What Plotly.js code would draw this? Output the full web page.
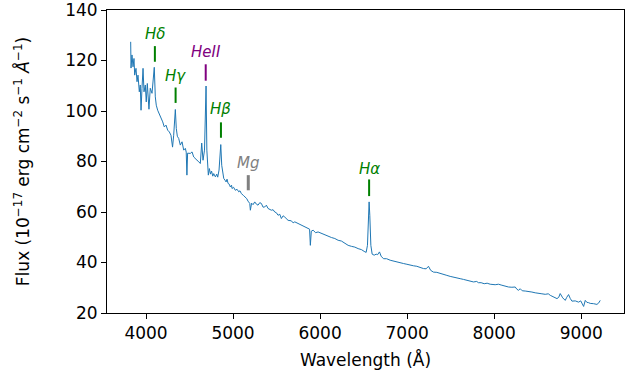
<!DOCTYPE html>
<html>
<head>
<meta charset="utf-8">
<script src="https://cdn.plot.ly/plotly-3.0.1.min.js"></script>
<style>html,body{margin:0;padding:0;background:#fff;}#chart{width:638px;height:374px;}</style>
</head>
<body>
<div id="chart"></div>
<script>
// Spectrum (wavelength in Angstrom, flux in 1e-17 erg/cm2/s/A)
const wavelength = [3824,3828,3839,3851,3862,3870,3885,3897,3908,3923,3934,3943,3954,3966,3977,3992,4003,4015,4034,4049,4069,4084,4095,4107,4118,4134,4153,4172,4192,4210,4230,4249,4268,4287,4305,4318,4337,4348,4360,4376,4394,4414,4433,4452,4462,4470,4478,4509,4529,4548,4567,4586,4606,4624,4640,4655,4672,4690,4699,4707,4716,4728,4741,4753,4767,4778,4797,4813,4824,4839,4859,4870,4882,4893,4908,4920,4931,4943,4957,4969,4983,4988,5006,5026,5046,5065,5080,5095,5118,5134,5157,5172,5192,5199,5213,5230,5249,5268,5287,5307,5325,5345,5364,5383,5402,5440,5460,5479,5498,5517,5537,5555,5575,5594,5613,5632,5670,5690,5709,5747,5785,5824,5862,5879,5888,5899,5920,5948,5977,6015,6054,6092,6130,6169,6207,6245,6284,6322,6360,6399,6437,6475,6506,6529,6544,6556,6563,6571,6583,6598,6621,6644,6661,6682,6701,6728,6764,6805,6843,6881,6919,6957,6997,7034,7072,7111,7149,7187,7218,7245,7270,7302,7341,7379,7417,7456,7494,7532,7571,7609,7647,7686,7724,7762,7799,7819,7850,7885,7919,7954,8011,8049,8088,8126,8164,8203,8241,8261,8279,8299,8322,8356,8394,8433,8471,8509,8548,8586,8621,8644,8681,8721,8741,8758,8787,8816,8833,8854,8873,8893,8931,8969,8994,9015,9027,9046,9065,9084,9103,9141,9161,9180,9201,9218];
const flux = [127.4,117.0,122.2,117.5,120.8,114.2,116.9,111.6,114.2,107.6,110.3,100.3,109.0,116.9,107.6,110.3,103.6,110.9,100.7,109.0,107.0,111.6,117.3,105.6,102.3,100.3,99.0,97.1,95.7,93.7,94.4,92.4,91.7,90.4,85.7,90.4,100.6,93.1,90.0,89.1,86.5,87.8,84.5,85.2,83.7,74.6,83.3,83.2,83.8,81.8,80.9,80.5,79.9,79.2,87.3,80.5,84.5,109.9,84.5,76.6,74.6,77.2,75.0,76.2,74.2,75.2,73.9,75.0,73.8,76.6,86.7,78.5,74.2,73.3,72.6,71.9,73.0,71.3,71.0,69.9,70.6,69.3,69.8,68.6,69.0,68.0,68.4,67.3,66.6,66.0,65.3,64.3,63.4,60.7,63.5,62.9,64.0,63.1,62.7,63.7,63.4,61.9,62.0,62.7,61.4,60.7,60.9,60.0,59.7,58.7,59.1,57.4,58.5,58.0,57.1,56.7,56.5,55.7,56.1,55.4,54.7,54.1,53.4,53.2,46.8,52.4,52.8,51.8,52.1,51.5,50.8,50.4,49.9,49.5,48.8,48.5,47.7,46.8,46.4,46.1,45.5,45.1,44.4,44.0,46.8,58.7,64.0,58.7,46.8,43.3,42.9,43.3,43.1,44.2,42.5,41.5,41.5,40.9,40.5,40.2,39.9,39.6,39.3,38.9,38.7,38.5,37.9,37.6,37.5,38.5,36.9,36.2,36.1,35.6,35.3,34.9,34.5,34.3,33.9,33.6,33.3,32.9,32.7,32.3,32.5,32.0,32.0,31.6,31.8,31.4,31.2,31.4,31.0,30.6,30.3,30.2,30.3,29.4,29.0,29.6,28.8,28.7,28.6,28.3,28.0,27.7,27.6,27.4,27.6,27.0,26.3,25.7,26.2,27.7,26.0,25.0,26.2,27.3,25.8,24.7,24.8,24.3,24.8,23.7,22.6,25.0,24.2,24.1,23.8,23.7,23.4,23.4,24.0,25.0];

// Line identifications
const lineNames = ['Hδ', 'Hγ', 'HeII', 'Hβ', 'Mg', 'Hα'];
const lineWaves = [4102, 4340, 4686, 4861, 5175, 6563];
const barBottom = [119.5, 103.2, 112.0, 89.4, 68.6, 66.3];
const barTop = [125.7, 109.3, 118.5, 95.5, 74.6, 72.9];
const labelY = [130.4, 113.8, 123.2, 100.6, 79.3, 77.2];
const lineColors = ['#008000', '#008000', '#800080', '#008000', '#808080', '#008000'];
const barWidths = [2, 2, 2, 2, 3, 2];

const traces = [{
  x: wavelength, y: flux, type: 'scatter', mode: 'lines',
  line: {color: '#1f77b4', width: 1}, hoverinfo: 'skip'
}];
lineNames.forEach((n, i) => {
  traces.push({
    x: [lineWaves[i], lineWaves[i]], y: [barBottom[i], barTop[i]],
    type: 'scatter', mode: 'lines',
    line: {color: lineColors[i], width: barWidths[i]}, hoverinfo: 'skip'
  });
});

const annotations = lineNames.map((n, i) => ({
  x: lineWaves[i], y: labelY[i], xref: 'x', yref: 'y',
  text: n, showarrow: false, xanchor: 'center', yanchor: 'middle',
  font: {family: 'DejaVu Sans', size: 15, color: lineColors[i], style: 'italic'}
}));

const axisCommon = {
  showline: true, linecolor: '#000', linewidth: 1, mirror: true,
  ticks: 'outside', ticklen: 5, tickwidth: 1, tickcolor: '#000',
  showgrid: false, zeroline: false, ticklabeloverflow: 'allow',
  tickfont: {family: 'DejaVu Sans', size: 17, color: '#000'}
};

const layout = {
  width: 638, height: 374,
  margin: {l: 107, r: 14, t: 10, b: 61},
  paper_bgcolor: '#fff', plot_bgcolor: '#fff',
  showlegend: false,
  font: {family: 'DejaVu Sans', color: '#000'},
  xaxis: Object.assign({}, axisCommon, {
    range: [3552, 9491], dtick: 1000, tick0: 0,
    title: {text: 'Wavelength (Å)', font: {family: 'DejaVu Sans', size: 17, color: '#000'}, standoff: 11}
  }),
  yaxis: Object.assign({}, axisCommon, {
    range: [20, 140], dtick: 20, tick0: 0,
    title: {text: 'Flux (10<sup>−17</sup> erg cm<sup>−2</sup> s<sup>−1</sup> <i>Å</i><sup>−1</sup>)', font: {family: 'DejaVu Sans', size: 17, color: '#000'}, standoff: 31}
  }),
  annotations: annotations
};

Plotly.newPlot('chart', traces, layout, {staticPlot: true, displayModeBar: false});
</script>
</body>
</html>
